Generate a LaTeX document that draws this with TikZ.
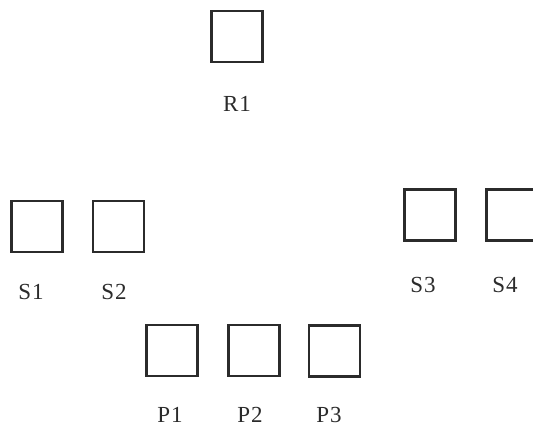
\documentclass[tikz,border=0pt]{standalone}
\usepackage{fontspec}
\setmainfont{Liberation Serif}
\definecolor{ink}{HTML}{2B2B2B}
\begin{document}
\begin{tikzpicture}[x=1pt,y=-1pt,
  box/.style={draw=ink,line width=2.4pt,minimum width=51pt,minimum height=51pt,inner sep=0pt},
  lab/.style={text=ink,font=\fontsize{23}{23}\selectfont,inner sep=0pt,anchor=base}]
\useasboundingbox (0,0) rectangle (533,428);
\node[box] (r1) at (237,36.5) {};
\node[lab] (lr1) at (237,111) {R\kern1pt1};
\node[box] (s1) at (37,226.5) {};
\node[lab] (ls1) at (31,299) {S\kern1pt1};
\node[box] (s2) at (118.5,226.5) {};
\node[lab] (ls2) at (114,299) {S\kern1pt2};
\node[box] (s3) at (430,215) {};
\node[lab] (ls3) at (423,292) {S\kern1pt3};
\node[box] (s4) at (512,215) {};
\node[lab] (ls4) at (505,292) {S\kern1pt4};
\node[box] (p1) at (172,350.5) {};
\node[lab] (lp1) at (170,422) {P\kern1pt1};
\node[box] (p2) at (254,350.5) {};
\node[lab] (lp2) at (250,422) {P\kern1pt2};
\node[box] (p3) at (334.5,351) {};
\node[lab] (lp3) at (329,422) {P\kern1pt3};
\end{tikzpicture}
\end{document}
